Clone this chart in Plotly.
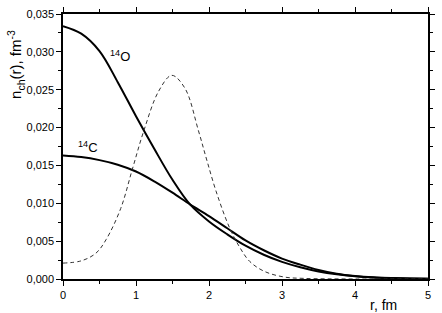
import plotly.graph_objects as go

# 14O charge density
r_O = [0, 0.25, 0.5, 0.75, 1.0, 1.25, 1.5, 1.74, 2.0, 2.25, 2.5, 2.75, 3.0, 3.25, 3.5, 3.75, 4.0, 4.25, 4.5, 4.75, 5.0]
n_O = [0.0334, 0.0324, 0.0301, 0.0260, 0.0215, 0.0172, 0.0131, 0.00985, 0.0076, 0.0059, 0.0044, 0.0032, 0.00226, 0.00155,
       0.0010, 0.00062, 0.00037, 0.00021, 0.00012, 0.00006, 0.00003]

# 14C charge density
r_C = [0, 0.25, 0.5, 0.75, 1.0, 1.25, 1.5, 1.74, 2.0, 2.25, 2.5, 2.75, 3.0, 3.25, 3.5, 3.75, 4.0, 4.25, 4.5, 4.75, 5.0]
n_C = [0.0163, 0.0161, 0.0157, 0.0151, 0.0142, 0.0129, 0.0114, 0.00985, 0.0083, 0.0067, 0.0051, 0.0038, 0.0027, 0.0019,
       0.0012, 0.0007, 0.0004, 0.00022, 0.00012, 0.00006, 0.00003]

# difference (dashed)
r_D = [0, 0.25, 0.45, 0.59, 0.79, 0.95, 1.108, 1.31, 1.49, 1.67, 1.855, 1.97, 2.10, 2.28, 2.42, 2.56, 2.76, 3.03, 3.3, 4.0, 5.0]
n_D = [0.0021, 0.0024, 0.0034, 0.0052, 0.0093, 0.0145, 0.0196, 0.0248, 0.0269, 0.0252, 0.0196, 0.0157, 0.0115, 0.0068,
       0.0042, 0.0023, 0.0010, 0.00026, 0.00008, 0.0, 0.0]

x_ticks = [0, 1, 2, 3, 4, 5]

FONT = "Liberation Sans, Arial"

fig = go.Figure()
fig.add_trace(go.Scatter(x=r_O, y=n_O, mode="lines", line=dict(color="black", width=2, shape="spline"), showlegend=False))
fig.add_trace(go.Scatter(x=r_C, y=n_C, mode="lines", line=dict(color="black", width=2, shape="spline"), showlegend=False))
fig.add_trace(go.Scatter(x=r_D, y=n_D, mode="lines", line=dict(color="#333333", width=1, dash="4px,3px", shape="spline"), showlegend=False))

axis_common = dict(showline=True, linecolor="black", linewidth=1.5, mirror="ticks", ticks="outside",
                   ticklen=5, tickwidth=1.2, tickcolor="black", showgrid=False, zeroline=False,
                   tickfont=dict(family=FONT, size=11, color="black"))

fig.update_xaxes(range=[0, 5], tickvals=x_ticks, ticktext=[str(v) for v in x_ticks],
                 minor=dict(dtick=0.5, ticks="outside", ticklen=3, tickcolor="black", showgrid=False), **axis_common)
fig.update_yaxes(range=[0, 0.035], dtick=0.005, tick0=0, tickformat=".3f",
                 minor=dict(dtick=0.0025, ticks="outside", ticklen=3, tickcolor="black", showgrid=False), **axis_common)

fig.add_annotation(x=-0.13, y=0.81, xref="paper", yref="paper", xanchor="center", yanchor="middle",
                   text="n<sub>ch</sub>(r), fm<sup>-3</sup>", textangle=-90, showarrow=False,
                   font=dict(family=FONT, size=15, color="black"))
fig.add_annotation(x=0.92, y=-0.06, xref="paper", yref="paper", xanchor="right", yanchor="top",
                   text="r, fm", showarrow=False, font=dict(family=FONT, size=14, color="black"))
fig.add_annotation(x=0.61, y=0.0295, xref="x", yref="y", xanchor="left", yanchor="middle",
                   text="<sup>14</sup>O", showarrow=False, font=dict(family=FONT, size=13, color="black"))
fig.add_annotation(x=0.18, y=0.0175, xref="x", yref="y", xanchor="left", yanchor="middle",
                   text="<sup>14</sup>C", showarrow=False, font=dict(family=FONT, size=13, color="black"))

fig.update_layout(width=442, height=313, margin=dict(l=63, r=10, t=7, b=34),
                  paper_bgcolor="white", plot_bgcolor="white", separators=", ")
fig.write_html("out.html", config={"displayModeBar": False},
               post_script="document.body.style.margin='0px';")
